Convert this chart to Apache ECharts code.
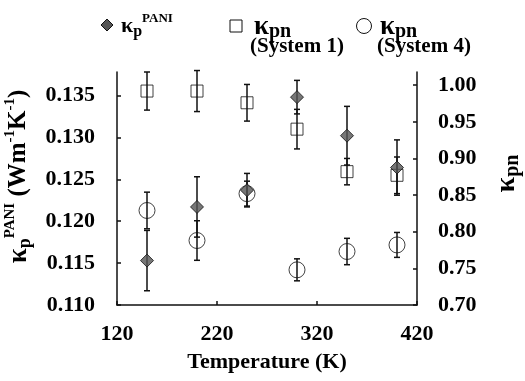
<!DOCTYPE html>
<html>
<head>
<meta charset="utf-8">
<script src="https://cdn.jsdelivr.net/npm/echarts@6/dist/echarts.min.js"></script>
<style>
  html, body { margin: 0; padding: 0; background: #fff; }
  #chart { width: 525px; height: 381px; }
</style>
</head>
<body>
<div id="chart"></div>
<script>
// temperatures (K)
const temps = [150, 200, 250, 300, 350, 400]
// kappa_p PANI (left axis)
const kpPani = [0.1153, 0.1217, 0.1237, 0.1348, 0.1302, 0.1264]
const kpPaniErr = [0.0036, 0.0036, 0.0020, 0.0020, 0.0035, 0.0033]
// kappa_pn system 1 (right axis)
const kpn1 = [0.992, 0.992, 0.976, 0.940, 0.882, 0.877]
const kpn1Err = [0.026, 0.028, 0.025, 0.027, 0.018, 0.025]
// kappa_pn system 4 (right axis)
const kpn4 = [0.829, 0.788, 0.852, 0.748, 0.773, 0.782]
const kpn4Err = [0.025, 0.027, 0.017, 0.015, 0.018, 0.017]
// tick labels
const xTicks = [120, 220, 320, 420]
const leftTicks = [0.110, 0.115, 0.120, 0.125, 0.130, 0.135]
const rightTicks = [0.70, 0.75, 0.80, 0.85, 0.90, 0.95, 1.00]

const FONT = 'Liberation Serif'
const chart = echarts.init(document.getElementById('chart'))

const pts = (ys) => temps.map((t, i) => [t, ys[i]])
const errs = (ys, es) => temps.map((t, i) => [t, ys[i] - es[i], ys[i] + es[i]])

function errRender(params, api) {
    const x = api.value(0)
    const lo = api.coord([x, api.value(1)])
    const hi = api.coord([x, api.value(2)])
    const c = 3
    const st = { stroke: '#111', lineWidth: 1.5 }
    return {
        type: 'group',
        children: [
            { type: 'line', shape: { x1: lo[0], y1: lo[1], x2: hi[0], y2: hi[1] }, style: st },
            { type: 'line', shape: { x1: lo[0] - c, y1: lo[1], x2: lo[0] + c, y2: lo[1] }, style: st },
            { type: 'line', shape: { x1: hi[0] - c, y1: hi[1], x2: hi[0] + c, y2: hi[1] }, style: st }
        ]
    }
}

const axisLine = { lineStyle: { color: '#111', width: 1.5 } }
const tick = { inside: true, length: 4, lineStyle: { color: '#111', width: 1.5 } }
const lbl = { color: '#000', fontFamily: FONT, fontWeight: 'bold', fontSize: 22 }

let options = {
    animation: false,
    grid: { left: 117, right: 108, top: 72, bottom: 76, outerBoundsMode: 'none', containLabel: false },
    xAxis: {
        type: 'value', min: 120, max: 420, interval: 100,
        axisLine: axisLine,
        axisTick: Object.assign({ customValues: xTicks }, tick),
        axisLabel: Object.assign({ customValues: xTicks, margin: 18 }, lbl),
        splitLine: { show: false },
        name: 'Temperature (K)', nameLocation: 'middle', nameGap: 46,
        nameTextStyle: { color: '#000', fontFamily: FONT, fontWeight: 'bold', fontSize: 22 }
    },
    yAxis: [
        {
            type: 'value', min: 0.110, max: 0.1378,
            axisLine: Object.assign({ show: true }, axisLine),
            axisTick: Object.assign({ customValues: leftTicks }, tick),
            axisLabel: Object.assign({ customValues: leftTicks, margin: 22, formatter: v => v.toFixed(3) }, lbl),
            splitLine: { show: false },
            name: '{k|κ}{sub|p}{sup|PANI}{t| (Wm}{sup2|-1}{t|K}{sup2|-1}{t|)}',
            nameLocation: 'middle', nameRotate: 90, nameGap: 74,
            nameTextStyle: {
                color: '#000', fontFamily: FONT, fontWeight: 'bold', padding: [0, 0, 0, 24],
                rich: {
                    k: { fontFamily: FONT, fontWeight: 'bold', fontSize: 27, color: '#000', lineHeight: 32, verticalAlign: 'middle' },
                    sub: { fontFamily: FONT, fontWeight: 'bold', fontSize: 18, color: '#000', verticalAlign: 'bottom' },
                    sup: { fontFamily: FONT, fontWeight: 'bold', fontSize: 15, color: '#000', verticalAlign: 'top' },
                    t: { fontFamily: FONT, fontWeight: 'bold', fontSize: 25, color: '#000', verticalAlign: 'middle' },
                    sup2: { fontFamily: FONT, fontWeight: 'bold', fontSize: 15, color: '#000', verticalAlign: 'top' }
                }
            }
        },
        {
            type: 'value', min: 0.70, max: 1.018, position: 'right',
            axisLine: Object.assign({ show: true }, axisLine),
            axisTick: Object.assign({ customValues: rightTicks }, tick),
            axisLabel: Object.assign({ customValues: rightTicks, margin: 21, formatter: v => v.toFixed(2) }, lbl),
            splitLine: { show: false },
            name: '{k|κ}{sub|pn}',
            nameLocation: 'middle', nameRotate: 90, nameGap: 74,
            nameTextStyle: {
                padding: [0, 0, 0, 30],
                rich: {
                    k: { fontFamily: FONT, fontWeight: 'bold', fontSize: 28, color: '#000', lineHeight: 32, verticalAlign: 'middle' },
                    sub: { fontFamily: FONT, fontWeight: 'bold', fontSize: 20, color: '#000', verticalAlign: 'bottom' }
                }
            }
        }
    ],
    graphic: [
        // legend: kappa_p PANI
        { type: 'polygon', shape: { points: [[107, 19], [113, 25], [107, 31], [101, 25]] }, style: { fill: '#555', stroke: '#111', lineWidth: 1 } },
        {
            type: 'text', x: 121, y: 12,
            style: {
                text: '{k|κ}{sub|p}{sup|PANI}',
                rich: {
                    k: { fontFamily: FONT, fontWeight: 'bold', fontSize: 22, fill: '#000', lineHeight: 28, verticalAlign: 'middle' },
                    sub: { fontFamily: FONT, fontWeight: 'bold', fontSize: 16, fill: '#000', verticalAlign: 'bottom' },
                    sup: { fontFamily: FONT, fontWeight: 'bold', fontSize: 13, fill: '#000', verticalAlign: 'top' }
                }
            }
        },
        // legend: kappa_pn system 1
        { type: 'rect', shape: { x: 230, y: 20, width: 12, height: 12 }, style: { fill: '#fff', stroke: '#111', lineWidth: 1 } },
        {
            type: 'text', x: 254, y: 12,
            style: {
                text: '{k|κ}{sub|pn}',
                rich: {
                    k: { fontFamily: FONT, fontWeight: 'bold', fontSize: 27, fill: '#000', lineHeight: 30, verticalAlign: 'middle' },
                    sub: { fontFamily: FONT, fontWeight: 'bold', fontSize: 20, fill: '#000', verticalAlign: 'bottom' }
                }
            }
        },
        { type: 'text', x: 250, y: 36, style: { text: '(System 1)', fontFamily: FONT, fontWeight: 'bold', fontSize: 21, fill: '#000' } },
        // legend: kappa_pn system 4
        { type: 'circle', shape: { cx: 364, cy: 26, r: 7.5 }, style: { fill: '#fff', stroke: '#111', lineWidth: 1 } },
        {
            type: 'text', x: 380, y: 12,
            style: {
                text: '{k|κ}{sub|pn}',
                rich: {
                    k: { fontFamily: FONT, fontWeight: 'bold', fontSize: 27, fill: '#000', lineHeight: 30, verticalAlign: 'middle' },
                    sub: { fontFamily: FONT, fontWeight: 'bold', fontSize: 20, fill: '#000', verticalAlign: 'bottom' }
                }
            }
        },
        { type: 'text', x: 377, y: 36, style: { text: '(System 4)', fontFamily: FONT, fontWeight: 'bold', fontSize: 21, fill: '#000' } }
    ],
    series: [
        { type: 'custom', yAxisIndex: 1, renderItem: errRender, data: errs(kpn1, kpn1Err), z: 2 },
        { type: 'custom', yAxisIndex: 1, renderItem: errRender, data: errs(kpn4, kpn4Err), z: 2 },
        { type: 'custom', yAxisIndex: 0, renderItem: errRender, data: errs(kpPani, kpPaniErr), z: 2 },
        {
            name: 'kpn system 1', type: 'scatter', yAxisIndex: 1, symbol: 'rect', symbolSize: 12,
            itemStyle: { color: 'transparent', borderColor: '#111', borderWidth: 1 }, data: pts(kpn1), z: 3
        },
        {
            name: 'kpn system 4', type: 'scatter', yAxisIndex: 1, symbol: 'circle', symbolSize: 16,
            itemStyle: { color: 'transparent', borderColor: '#111', borderWidth: 1 }, data: pts(kpn4), z: 3
        },
        {
            name: 'kp PANI', type: 'scatter', yAxisIndex: 0, symbol: 'diamond', symbolSize: 13,
            itemStyle: { color: '#555', borderColor: '#111', borderWidth: 1 }, data: pts(kpPani), z: 4
        }
    ]
}

chart.setOption(options)
</script>
</body>
</html>
